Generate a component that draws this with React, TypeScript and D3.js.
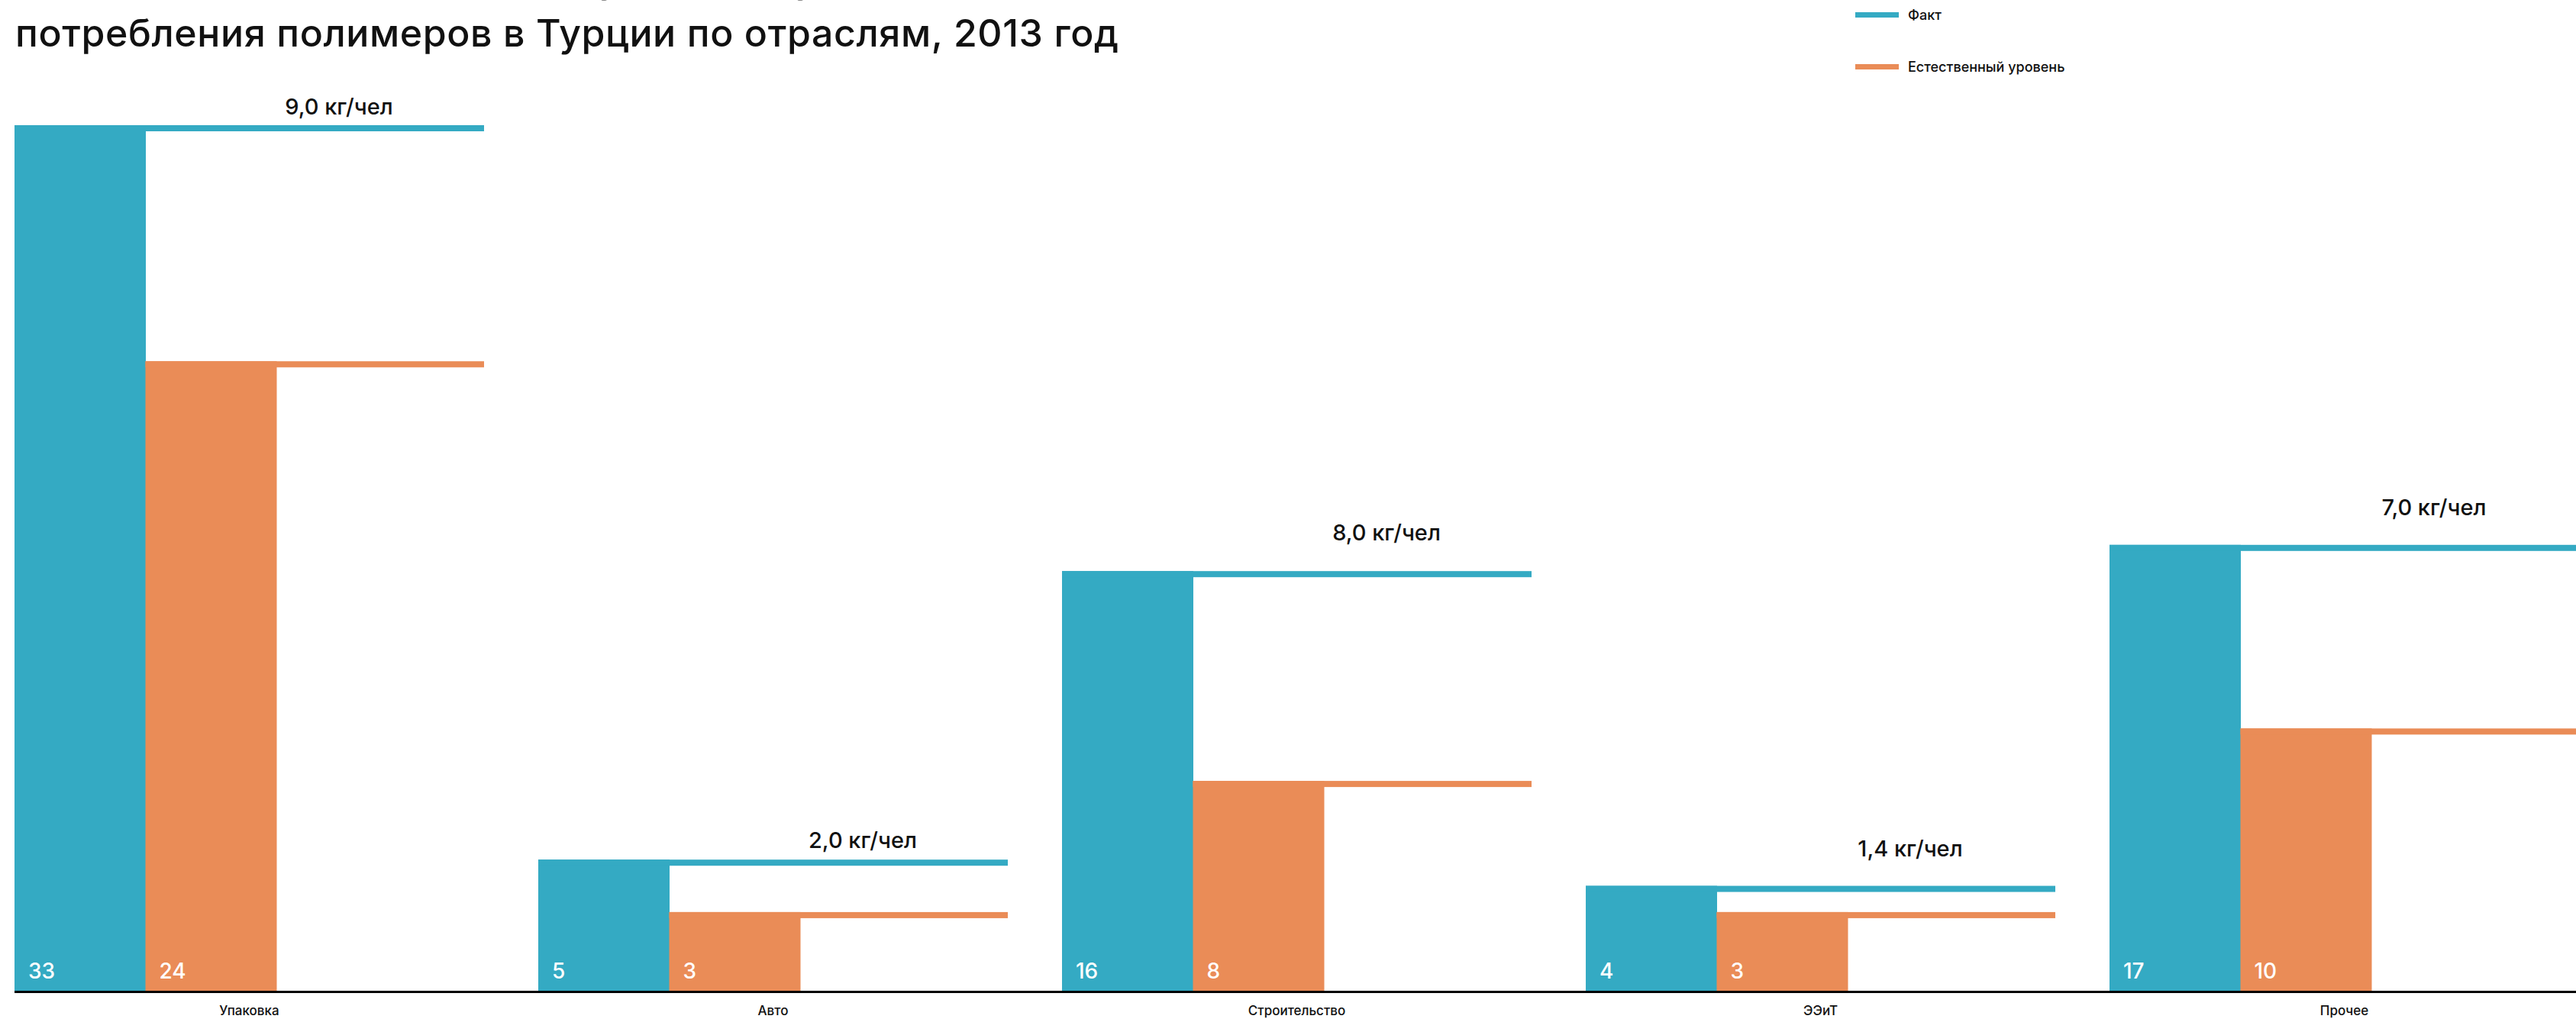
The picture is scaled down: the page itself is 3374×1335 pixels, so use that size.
import React from "react";
import * as d3 from "d3";

const categories = ["Упаковка", "Авто", "Строительство", "ЭЭиТ", "Прочее"];
const factValues = [33, 5, 16, 4, 17];
const naturalValues = [24, 3, 8, 3, 10];
const gapLabels = ["9,0 кг/чел", "2,0 кг/чел", "8,0 кг/чел", "1,4 кг/чел", "7,0 кг/чел"];
const seriesKeys = ["fact", "natural"];
const seriesNames = ["Факт", "Естественный уровень"];
const titleLines = [
  "Фактический и естественный уровень душевого",
  "потребления полимеров в Турции по отраслям, 2013 год",
];

const W = 3374;
const H = 1335;
const BLUE = "#34AAC3";
const ORANGE = "#EA8C57";
const FONT = "Inter, 'Noto Sans', sans-serif";
// vertical gap (px) between the gap label baseline and the top of the "fact" bar
const labelLift = [14, 15, 40, 39, 39];

export default function App() {
  const x0 = d3.scaleBand<string>().domain(categories).range([19, 3378]).paddingInner(0.1035).paddingOuter(0);
  const x1 = d3.scaleBand<string>().domain(seriesKeys).range([0, 343]);
  const y = d3.scaleLinear().domain([0, 33]).range([1298, 164]);
  const colors = d3.scaleOrdinal<string, string>().domain(seriesKeys).range([BLUE, ORANGE]);
  const bw = x0.bandwidth();
  const lineH = 8;

  return (
    <svg width={W} height={H} style={{ position: "absolute", left: 0, top: 0, background: "#fff" }} fontFamily={FONT}>
      <rect width={W} height={H} fill="#fff" />
      {/* title */}
      <text x={20} y={-10} fontSize={50} fontWeight={500} letterSpacing={0.6} fill="#111">{titleLines[0]}</text>
      <text x={20} y={61} fontSize={50} fontWeight={500} letterSpacing={0.6} fill="#111">{titleLines[1]}</text>

      {/* legend */}
      {seriesKeys.map((k, i) => (
        <g key={k} transform={`translate(2430, ${16 + i * 68})`}>
          <rect x={0} y={0} width={57} height={7} fill={colors(k)} />
          <text x={69} y={10} fontSize={18} fontWeight={500} fill="#111">{seriesNames[i]}</text>
        </g>
      ))}

      {categories.map((c, i) => {
        const gx = x0(c)!;
        const vals = [factValues[i], naturalValues[i]];
        return (
          <g key={c}>
            {seriesKeys.map((k, j) => {
              const bx = gx + x1(k)!;
              const top = y(vals[j]);
              return (
                <g key={k}>
                  <rect x={bx} y={top} width={x1.bandwidth() + 0.5} height={y(0) - top} fill={colors(k)} />
                  <rect x={bx} y={top} width={gx + bw - bx} height={lineH} fill={colors(k)} />
                  <text x={bx + 18} y={1282} fontSize={28} fontWeight={500} fill="#fff">{vals[j]}</text>
                </g>
              );
            })}
            <text x={gx + 425} y={y(factValues[i]) - labelLift[i]} fontSize={29} fontWeight={500} textAnchor="middle" fill="#111">
              {gapLabels[i]}
            </text>
            <text x={gx + bw / 2} y={1330} fontSize={17} fontWeight={500} textAnchor="middle" fill="#111">{c}</text>
          </g>
        );
      })}

      {/* axis line */}
      <rect x={19} y={y(0)} width={W - 19} height={3} fill="#000" />
    </svg>
  );
}
